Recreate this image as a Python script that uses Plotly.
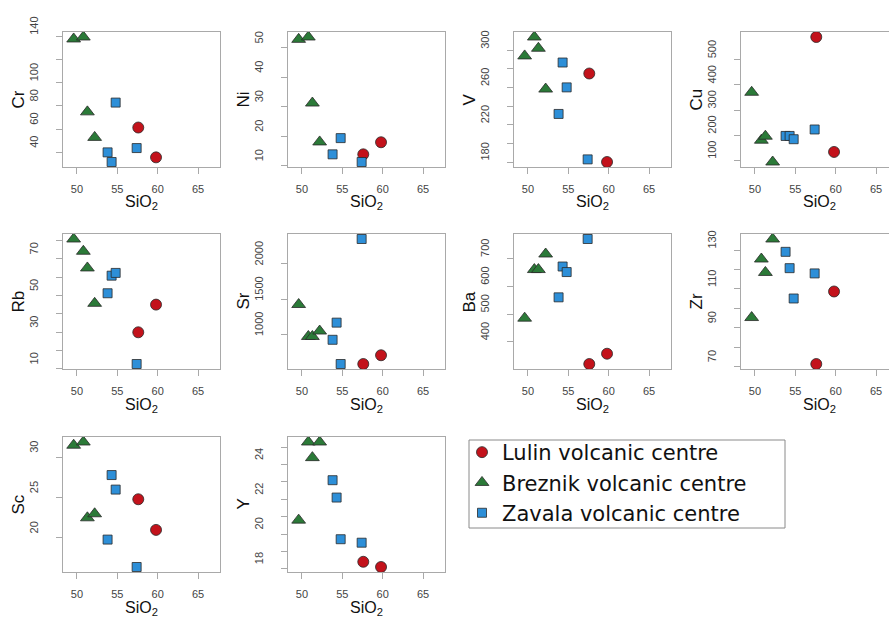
import plotly.graph_objects as go

W, H = 889, 620

# ---------------- data ----------------
SIO2_LULIN = [57.6, 59.8]
SIO2_BREZNIK = [49.6, 50.8, 51.3, 52.2]
SIO2_ZAVALA = [53.8, 54.3, 54.8, 57.4]

CR_LULIN = [61.4, 35.7]
CR_BREZNIK = [137.7, 139.4, 74.9, 52.9]
CR_ZAVALA = [40.0, 31.7, 82.9, 43.7]

NI_LULIN = [13.9, 18.0]
NI_BREZNIK = [52.9, 53.7, 31.3, 18.1]
NI_ZAVALA = [13.9, None, 19.4, 11.3]

V_LULIN = [275, 180]
V_BREZNIK = [293.9, 314.2, 302.1, 258.3]
V_ZAVALA = [231.6, 286.8, 260.1, 182.8]

CU_LULIN = [590.7, 133.3]
CU_BREZNIK = [370.7, 180, 196, 93.3]
CU_ZAVALA = [197, 197, 184, 222.7]

RB_LULIN = [30.0, 45.1]
RB_BREZNIK = [80.9, 74.2, 65.1, 45.8]
RB_ZAVALA = [51.3, 60.9, 62.4, 12.7]

SR_LULIN = [581, 705]
SR_BREZNIK = [1424, 971, 971, 1048]
SR_ZAVALA = [924, 1167, 581, 2352]

BA_LULIN = [320, 357]
BA_BREZNIK = [485, 660, 660, 716]
BA_ZAVALA = [560, 671, 651, 770]

ZR_LULIN = [71.4, 108.7]
ZR_BREZNIK = [95.3, 125.4, 118.5, 135.7]
ZR_ZAVALA = [129.1, 120.7, 105.1, 118.0]

SC_LULIN = [24.8, 21.0]
SC_BREZNIK = [31.5, 31.9, 22.5, 23.0]
SC_ZAVALA = [19.8, 27.8, 26.0, 16.4]

Y_LULIN = [18.4, 18.1]
Y_BREZNIK = [20.8, 25.3, 24.4, 25.3]
Y_ZAVALA = [23.1, 22.1, 19.7, 19.5]

ELEMENTS = ["Cr", "Ni", "V", "Cu", "Rb", "Sr", "Ba", "Zr", "Sc", "Y"]
LULIN = [CR_LULIN, NI_LULIN, V_LULIN, CU_LULIN, RB_LULIN, SR_LULIN, BA_LULIN, ZR_LULIN, SC_LULIN, Y_LULIN]
BREZNIK = [CR_BREZNIK, NI_BREZNIK, V_BREZNIK, CU_BREZNIK, RB_BREZNIK, SR_BREZNIK, BA_BREZNIK, ZR_BREZNIK, SC_BREZNIK, Y_BREZNIK]
ZAVALA = [CR_ZAVALA, NI_ZAVALA, V_ZAVALA, CU_ZAVALA, RB_ZAVALA, SR_ZAVALA, BA_ZAVALA, ZR_ZAVALA, SC_ZAVALA, Y_ZAVALA]

# y tick values and the labels that are printed ('' = tick without label)
YTICKS = [
    [40, 60, 80, 100, 120, 140],
    [10, 20, 30, 40, 50],
    [180, 200, 220, 240, 260, 280, 300],
    [100, 200, 300, 400, 500],
    [10, 20, 30, 40, 50, 60, 70, 80],
    [1000, 1500, 2000],
    [300, 400, 500, 600, 700],
    [70, 80, 90, 100, 110, 120, 130],
    [20, 25, 30],
    [18, 19, 20, 21, 22, 23, 24, 25],
]
YTEXT = [
    ["40", "60", "80", "100", "", "140"],
    ["10", "20", "30", "40", "50"],
    ["180", "", "220", "", "260", "", "300"],
    ["100", "200", "300", "400", "500"],
    ["10", "", "30", "", "50", "", "70", ""],
    ["1000", "1500", "2000"],
    ["300", "400", "500", "600", "700"],
    ["70", "", "90", "", "110", "", "130"],
    ["20", "25", "30"],
    ["18", "", "20", "", "22", "", "24", ""],
]
XTICKS = [50, 55, 60, 65]
XLIM = [49, 67]

GROUPS = [
    ("Lulin volcanic centre", SIO2_LULIN, LULIN, "circle", "#c3121b", 11),
    ("Breznik volcanic centre", SIO2_BREZNIK, BREZNIK, "triangle-up", "#2b7a38", 12),
    ("Zavala volcanic centre", SIO2_ZAVALA, ZAVALA, "square", "#2d8fd8", 9),
]

# ---------------- layout geometry (pixels) ----------------
COL_LEFT = [63, 288, 514, 741]
ROW_TOP = [32, 234, 437]
BOX_W, BOX_H = 157, 135

BOX_COLOR = "#a9a9a9"
TICK_FONT = dict(family="Liberation Sans, Arial, sans-serif", size=11, color="#444444")
TITLE_FONT = dict(family="Liberation Sans, Arial, sans-serif", size=16, color="#111111")


def rrange(lo, hi):
    d = (hi - lo) * 0.04
    return [lo - d, hi + d]


fig = go.Figure()
annotations = []
layout = {}

for i, el in enumerate(ELEMENTS):
    row, col = divmod(i, 4)
    k = "" if i == 0 else str(i + 1)
    left = COL_LEFT[col]
    top = ROW_TOP[row]
    right = left + BOX_W
    xr = rrange(*XLIM)
    if right > W:
        frac = (W - left) / BOX_W
        xr = [xr[0], xr[0] + (xr[1] - xr[0]) * frac]
        right = W
    xdom = [left / W, right / W]
    ydom = [1 - (top + BOX_H) / H, 1 - top / H]

    vals = [v for grp in (LULIN[i], BREZNIK[i], ZAVALA[i]) for v in grp if v is not None]
    yr = rrange(min(vals), max(vals))

    layout["xaxis" + k] = dict(
        domain=xdom, range=xr, anchor="y" + k, tickvals=XTICKS,
        ticks="outside", ticklen=6, tickcolor=BOX_COLOR, tickwidth=1,
        showline=True, linecolor=BOX_COLOR, linewidth=1, mirror=True,
        showgrid=False, zeroline=False, tickfont=TICK_FONT,
        ticklabelstandoff=6, fixedrange=True, automargin=False,
    )
    layout["yaxis" + k] = dict(
        domain=ydom, range=yr, anchor="x" + k, tickvals=YTICKS[i], ticktext=YTEXT[i],
        ticks="outside", ticklen=6, tickcolor=BOX_COLOR, tickwidth=1,
        showline=True, linecolor=BOX_COLOR, linewidth=1, mirror=(col != 3),
        showgrid=False, zeroline=False, tickfont=TICK_FONT, tickangle=-90,
        ticklabelstandoff=14, ticklabelshift=-9, fixedrange=True, automargin=False,
    )

    for name, sx, data, sym, colr, size in GROUPS:
        ys = data[i]
        xs = [x for x, y in zip(sx, ys) if y is not None]
        yy = [y for y in ys if y is not None]
        fig.add_trace(go.Scatter(
            x=xs, y=yy, mode="markers", name=name, legendgroup=name,
            showlegend=(i == 0), xaxis="x" + k, yaxis="y" + k,
            marker=dict(symbol=sym, color=colr, size=size,
                        line=dict(color="#2a2a2a", width=0.8)),
            hoverinfo="skip",
        ))

    annotations.append(dict(
        text="SiO<sub>2</sub>", xref="paper", yref="paper",
        x=(left + BOX_W / 2) / W, y=1 - (top + BOX_H + 36) / H,
        xanchor="center", yanchor="middle", showarrow=False, font=TITLE_FONT,
    ))
    annotations.append(dict(
        text=el, xref="paper", yref="paper",
        x=(left - 45) / W, y=1 - (top + BOX_H / 2) / H,
        xanchor="center", yanchor="middle", showarrow=False, textangle=-90,
        font=dict(TITLE_FONT, size=17),
    ))

# legend frame (drawn as a shape so its size matches the reference)
LEG_BOX = [469, 440, 785, 528]
shapes = [dict(
    type="rect", xref="paper", yref="paper",
    x0=LEG_BOX[0] / W, x1=LEG_BOX[2] / W, y0=1 - LEG_BOX[3] / H, y1=1 - LEG_BOX[1] / H,
    line=dict(color="#8a8a8a", width=1), fillcolor="rgba(0,0,0,0)", layer="above",
)]

fig.update_layout(
    width=W, height=H, margin=dict(l=0, r=0, t=0, b=0, autoexpand=False),
    paper_bgcolor="white", plot_bgcolor="white",
    annotations=annotations, shapes=shapes,
    legend=dict(
        x=462 / W, y=1 - 432 / H, xanchor="left", yanchor="top",
        borderwidth=0, bgcolor="rgba(0,0,0,0)",
        font=dict(family="DejaVu Sans, sans-serif", size=21, color="#111111"),
        itemwidth=30, tracegroupgap=0,
    ),
    **layout,
)

fig.write_html("out.html")
